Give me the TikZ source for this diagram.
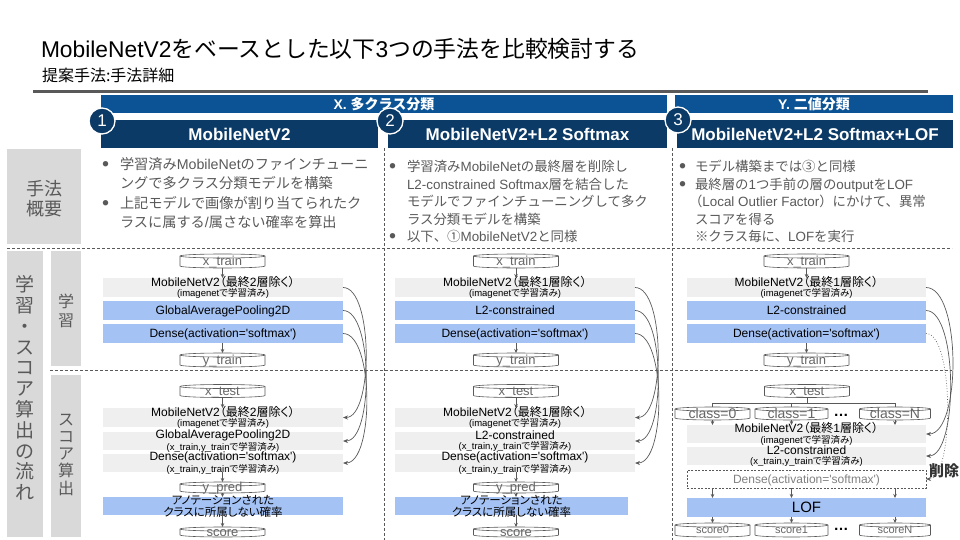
\documentclass[tikz,border=0pt]{standalone}
\usepackage{fontspec}
\setmainfont{Liberation Sans}
\newfontfamily\jp{Noto Sans CJK JP}
\newfontfamily\jpp{Noto Sans CJK JP}[RawFeature=+palt]
\usetikzlibrary{arrows.meta}
\pgfdeclarelayer{bg}
\pgfsetlayers{bg,main}

\definecolor{hdrblue}{HTML}{0B5394}
\definecolor{navy}{HTML}{0B3A66}
\definecolor{lblgray}{HTML}{D9D9D9}
\definecolor{boxgray}{HTML}{EFEFEF}
\definecolor{boxblue}{HTML}{A4C2F4}
\definecolor{txtgray}{HTML}{595959}
\definecolor{linegray}{HTML}{595959}
\definecolor{cangray}{HTML}{666666}
\definecolor{rulegray}{HTML}{595959}
\definecolor{deltxt}{HTML}{333333}

\newcommand\J[1]{{\jp #1}}
\newcommand\JP[1]{{\jpp #1}}
\newcommand\fs[2]{\fontsize{#1}{#2}\selectfont}
\newcommand\sq{\textquotesingle}

% drum outline behind a named cylinder node; #2 = half width in pt
\newcommand\candraw[2]{%
  \begin{pgfonlayer}{bg}
    \draw[canline, fill=white] ([yshift=-2pt]#1.north west) -- ([yshift=2pt]#1.south west)
      arc[start angle=180, end angle=360, x radius=#2pt, y radius=2pt]
      -- ([yshift=-2pt]#1.north east)
      arc[start angle=0, end angle=180, x radius=#2pt, y radius=2pt] -- cycle;
    \draw[canline] ([yshift=-2pt]#1.north west)
      arc[start angle=180, end angle=360, x radius=#2pt, y radius=2pt];
  \end{pgfonlayer}}

\tikzset{
  every node/.style={inner sep=0pt, outer sep=0pt},
  sepline/.style={draw=linegray, line width=0.7pt, dash pattern=on 3pt off 2pt},
  bandhdr/.style={fill=hdrblue, text=white, font=\bfseries\fs{14}{14}, minimum height=18pt, text height=10.2pt, text depth=0pt},
  colhdr/.style={fill=navy, text=white, font=\bfseries\fs{17}{17}, minimum height=28pt, text height=12.4pt, text depth=0pt},
  numc/.style={circle, fill=navy, draw=white, line width=1.3pt, minimum size=26pt, text=white, font=\fs{17}{17}},
  lblfill/.style={fill=lblgray},
  lbltxt/.style={text=txtgray, align=center},
  descA/.style={anchor=west, text=txtgray, font=\fs{14.2}{14.2}, text height=10.8pt, text depth=0pt},
  descB/.style={anchor=west, text=txtgray, font=\fs{13.4}{13.4}, text height=10.2pt, text depth=0pt},
  bul/.style={font=\jp\fs{6}{6}, text=txtgray},
  box240/.style={minimum width=240pt, minimum height=19pt},
  box1l/.style={font=\fs{12}{12}, text=black, text height=8.8pt, text depth=0pt},
  box2l/.style={font=\fs{12}{10.5}, text=black, align=center},
  annl/.style={font=\jpp\fs{11.5}{12}, text=black, align=center},
  grayfill/.style={fill=boxgray},
  bluefill/.style={fill=boxblue},
  dashedbox/.style={draw=linegray, line width=0.6pt, dash pattern=on 2pt off 1.5pt, fill=white},
  cantext/.style={text=cangray, font=\fs{13}{13}, text height=8.5pt, text depth=0pt},
  canline/.style={draw=linegray, line width=0.6pt},
  flowarr/.style={draw=linegray, line width=0.6pt, -{Stealth[length=4pt,width=3.5pt]}},
  treeline/.style={draw=linegray, line width=0.6pt},
  reuse/.style={draw=linegray, line width=0.7pt, -{Stealth[length=5pt,width=4pt]}},
}

\begin{document}
\begin{tikzpicture}[x=1pt,y=-1pt]
\useasboundingbox (0,0) rectangle (960,540);

% ---------- title block ----------
\node (title) [anchor=base west, font=\fs{22.8}{22.8}] at (41,58)
  {MobileNetV2\J{をベースとした以下}3\J{つの手法を比較検討する}};
\node (subtitle) [anchor=base west, font=\jp\fs{16}{16}] at (42,82) {提案手法:手法詳細};
\draw[line width=3pt, rulegray] (33,92) -- (928,92);

% ---------- section separators ----------
\draw[sepline] (7,248) -- (952,248);
\draw[sepline] (50,370) -- (952,370);
\draw[sepline] (384,148) -- (384,540);
\draw[sepline] (672,148) -- (672,540);

% ---------- headers ----------
\node (xband) [bandhdr, minimum width=566pt] at (384,104) {X. \J{多クラス分類}};
\node (yband) [bandhdr, minimum width=278pt] at (814,104) {Y. \J{二値分類}};
\node (h1) [colhdr, minimum width=277pt] at (239.5,134) {MobileNetV2};
\node (h2) [colhdr, minimum width=279pt] at (527.5,134) {MobileNetV2+L2 Softmax};
\node (h3) [colhdr, minimum width=276pt] at (815,134) {MobileNetV2+L2 Softmax+LOF};
\node (n1) [numc] at (102,121) {1};
\node (n2) [numc] at (390,121) {2};
\node (n3) [numc] at (678,120) {3};

% ---------- row labels ----------
\node (lbA) [lblfill, minimum width=74pt, minimum height=95pt] at (44,196.5) {};
\node (lbAt) [lbltxt, font=\jp\fs{18}{20}] at (44,199) {手法\\概要};
\node (lbB) [lblfill, minimum width=36pt, minimum height=286pt] at (25,394) {};
\node (lbBt) [lbltxt, font=\jp\fs{19}{20.8}] at (25,388)
  {学\\習\\・\\ス\\コ\\ア\\算\\出\\の\\流\\れ};
\node (lbC) [lblfill, minimum width=30pt, minimum height=115pt] at (66,308.5) {};
\node (lbCt) [lbltxt, font=\jp\fs{16}{19}] at (66,310.5) {学\\習};
\node (lbD) [lblfill, minimum width=30pt, minimum height=162pt] at (66,456) {};
\node (lbDt) [lbltxt, font=\jp\fs{16}{17.25}] at (66,454.5) {ス\\コ\\ア\\算\\出};

% ---------- method summaries ----------
\node (b11) [bul] at (105.5,164) {●};
\node (d11) [descA] at (120,164) {\J{学習済み}MobileNet\J{のファインチューニ}};
\node (d12) [descA] at (120,183.5) {\J{ングで多クラス分類モデルを構築}};
\node (b12) [bul] at (105.5,203) {●};
\node (d13) [descA] at (120,203) {\J{上記モデルで画像が割り当てられたク}};
\node (d14) [descA] at (120,222.5) {\J{ラスに属する}/\J{属さない確率を算出}};

\node (b21) [bul] at (392.5,166.5) {●};
\node (d21) [descB] at (407,166.5) {\J{学習済み}MobileNet\J{の最終層を削除し}};
\node (d22) [descB] at (407,184) {L2-constrained Softmax\J{層を結合した}};
\node (d23) [descB] at (407,201.5) {\J{モデルでファインチューニングして多ク}};
\node (d24) [descB] at (407,219) {\J{ラス分類モデルを構築}};
\node (b22) [bul] at (392.5,236.5) {●};
\node (d25) [descB] at (407,236.5) {\J{以下、①}MobileNetV2\J{と同様}};

\node (b31) [bul] at (682.5,166.5) {●};
\node (d31) [descB] at (695,166.5) {\J{モデル構築までは③と同様}};
\node (b32) [bul] at (682.5,184) {●};
\node (d32) [descB] at (695,184) {\J{最終層の}1\J{つ手前の層の}output\J{を}LOF};
\node (d33) [descB] at (689,201.5) {\J{（}Local Outlier Factor\J{）にかけて、異常}};
\node (d34) [descB] at (695,219) {\J{スコアを得る}};
\node (d35) [descB] at (695,236.5) {\J{※クラス毎に、}LOF\J{を実行}};

% ---------- column 1: MobileNetV2 ----------
\node (xtr1) [cantext, minimum width=85pt, minimum height=14pt] at (222.5,261) {x\_train};
\candraw{xtr1}{42.5}
\node (mb1) [grayfill, box240] at (223,287.5) {};
\node (mb1t) [box2l] at (mb1) {MobileNetV2\JP{（最終}2\JP{層除く）}\\{\fs{9.5}{9.5}(imagenet\JP{で学習済み})}};
\node (gap1) [bluefill, box240, box1l] at (223,310.5) {GlobalAveragePooling2D};
\node (den1) [bluefill, box240, box1l] at (223,333.5) {Dense(activation=\sq softmax\sq)};
\node (ytr1) [cantext, minimum width=85pt, minimum height=14pt] at (222.5,360) {y\_train};
\candraw{ytr1}{42.5}

\node (xte1) [cantext, minimum width=85pt, minimum height=13pt] at (222.5,391) {x\_test};
\candraw{xte1}{42.5}
\node (mbs1) [grayfill, box240] at (223,417.5) {};
\node (mbs1t) [box2l] at (mbs1) {MobileNetV2\JP{（最終}2\JP{層除く）}\\{\fs{9.5}{9.5}(imagenet\JP{で学習済み})}};
\node (gaps1) [grayfill, box240, minimum height=18pt] at (223,441) {};
\node (gaps1t) [box2l] at (gaps1) {GlobalAveragePooling2D\\{\fs{9.5}{9.5}(x\_train,y\_train\JP{で学習済み})}};
\node (dens1) [grayfill, box240, minimum height=18pt] at (223,463) {};
\node (dens1t) [box2l] at (dens1) {Dense(activation=\sq softmax\sq)\\{\fs{9.5}{9.5}(x\_train,y\_train\JP{で学習済み})}};
\node (ypr1) [cantext, minimum width=85pt, minimum height=11pt] at (222.5,487.5) {y\_pred};
\candraw{ypr1}{42.5}
\node (ann1) [bluefill, box240, minimum height=18pt] at (223,506) {};
\node (ann1t) [annl] at (ann1) {アノテーションされた\\クラスに所属しない確率};
\node (sco1) [cantext, minimum width=85pt, minimum height=10pt] at (222.5,532) {score};
\candraw{sco1}{42.5}

\draw[flowarr] (xtr1.south) -- (xtr1.south |- mb1.north);
\draw[flowarr] (den1.south -| ytr1) -- (ytr1.north);
\draw[flowarr] (xte1.south) -- (xte1.south |- mbs1.north);
\draw[flowarr] (dens1.south -| ypr1) -- (ypr1.north);
\draw[flowarr] (ypr1.south) -- (ypr1.south |- ann1.north);
\draw[flowarr] (ann1.south -| sco1) -- (sco1.north);
\draw[reuse] (mb1.east) to[out=0, in=0, looseness=0.6] (mbs1.east);
\draw[reuse] (gap1.east) to[out=0, in=0, looseness=0.6] (gaps1.east);
\draw[reuse] (den1.east) to[out=0, in=0, looseness=0.62] (dens1.east);

% ---------- column 2: MobileNetV2 + L2 Softmax ----------
\node (xtr2) [cantext, minimum width=85pt, minimum height=14pt] at (516,261) {x\_train};
\candraw{xtr2}{42.5}
\node (mb2) [grayfill, box240] at (515,287.5) {};
\node (mb2t) [box2l] at (mb2) {MobileNetV2\JP{（最終}1\JP{層除く）}\\{\fs{9.5}{9.5}(imagenet\JP{で学習済み})}};
\node (l22) [bluefill, box240, box1l] at (515,310.5) {L2-constrained};
\node (den2) [bluefill, box240, box1l] at (515,333.5) {Dense(activation=\sq softmax\sq)};
\node (ytr2) [cantext, minimum width=85pt, minimum height=14pt] at (516,360) {y\_train};
\candraw{ytr2}{42.5}

\node (xte2) [cantext, minimum width=85pt, minimum height=13pt] at (516,391) {x\_test};
\candraw{xte2}{42.5}
\node (mbs2) [grayfill, box240] at (515,417.5) {};
\node (mbs2t) [box2l] at (mbs2) {MobileNetV2\JP{（最終}1\JP{層除く）}\\{\fs{9.5}{9.5}(imagenet\JP{で学習済み})}};
\node (l2s2) [grayfill, box240, minimum height=18pt] at (515,441) {};
\node (l2s2t) [box2l] at (l2s2) {L2-constrained\\{\fs{9.5}{9.5}(x\_train,y\_train\JP{で学習済み})}};
\node (dens2) [grayfill, box240, minimum height=18pt] at (515,463) {};
\node (dens2t) [box2l] at (dens2) {Dense(activation=\sq softmax\sq)\\{\fs{9.5}{9.5}(x\_train,y\_train\JP{で学習済み})}};
\node (ypr2) [cantext, minimum width=85pt, minimum height=11pt] at (516,487.5) {y\_pred};
\candraw{ypr2}{42.5}
\node (ann2) [bluefill, minimum width=233pt, minimum height=18pt] at (511.5,506) {};
\node (ann2t) [annl] at (ann2) {アノテーションされた\\クラスに所属しない確率};
\node (sco2) [cantext, minimum width=85pt, minimum height=10pt] at (516,532) {score};
\candraw{sco2}{42.5}

\draw[flowarr] (xtr2.south) -- (xtr2.south |- mb2.north);
\draw[flowarr] (den2.south -| ytr2) -- (ytr2.north);
\draw[flowarr] (xte2.south) -- (xte2.south |- mbs2.north);
\draw[flowarr] (dens2.south -| ypr2) -- (ypr2.north);
\draw[flowarr] (ypr2.south) -- (ypr2.south |- ann2.north);
\draw[flowarr] (ann2.south -| sco2) -- (sco2.north);
\draw[reuse] (mb2.east) to[out=0, in=0, looseness=0.6] (mbs2.east);
\draw[reuse] (l22.east) to[out=0, in=0, looseness=0.6] (l2s2.east);
\draw[reuse] (den2.east) to[out=0, in=0, looseness=0.62] (dens2.east);

% ---------- column 3: MobileNetV2 + L2 Softmax + LOF ----------
\node (xtr3) [cantext, minimum width=85pt, minimum height=14pt] at (806.5,261) {x\_train};
\candraw{xtr3}{42.5}
\node (mb3) [grayfill, minimum width=239pt, minimum height=19pt] at (806.5,287.5) {};
\node (mb3t) [box2l] at (mb3) {MobileNetV2\JP{（最終}1\JP{層除く）}\\{\fs{9.5}{9.5}(imagenet\JP{で学習済み})}};
\node (l23) [bluefill, box1l, minimum width=239pt, minimum height=19pt] at (806.5,310.5) {L2-constrained};
\node (den3) [bluefill, box1l, minimum width=239pt, minimum height=19pt] at (806.5,333.5) {Dense(activation=\sq softmax\sq)};
\node (ytr3) [cantext, minimum width=85pt, minimum height=14pt] at (806.5,360) {y\_train};
\candraw{ytr3}{42.5}

\node (xte3) [cantext, minimum width=85pt, minimum height=13pt] at (807,391) {x\_test};
\candraw{xte3}{42.5}
\coordinate (bus) at (807,403);
\node (c0) [cantext, font=\fs{14}{14}, text height=9.6pt, minimum width=75pt, minimum height=13pt] at (712.5,413.5) {class=0};
\candraw{c0}{37.5}
\node (c1) [cantext, font=\fs{14}{14}, text height=9.6pt, minimum width=73pt, minimum height=13pt] at (791.5,413.5) {class=1};
\candraw{c1}{36.5}
\node (cN) [cantext, font=\fs{14}{14}, text height=9.6pt, minimum width=71pt, minimum height=13pt] at (895,413.5) {class=N};
\candraw{cN}{35.5}
\node (dots1) [font=\bfseries\fs{15}{15}, text=black] at (841,415) {…};

\node (mbs3) [grayfill, minimum width=239pt, minimum height=18pt] at (806.5,434) {};
\node (mbs3t) [box2l] at (mbs3) {MobileNetV2\JP{（最終}1\JP{層除く）}\\{\fs{9.5}{9.5}(imagenet\JP{で学習済み})}};
\node (l2s3) [grayfill, minimum width=239pt, minimum height=18pt] at (806.5,456) {};
\node (l2s3t) [box2l] at (l2s3) {L2-constrained\\{\fs{9.5}{9.5}(x\_train,y\_train\JP{で学習済み})}};
\node (dens3) [dashedbox, box1l, text=gray, minimum width=239pt, minimum height=18pt] at (806.5,479) {Dense(activation=\sq softmax\sq)};
\node (lof3) [bluefill, font=\fs{15}{15}, text=black, text height=10.9pt, text depth=0pt, minimum width=239pt, minimum height=19pt] at (806.5,507.5) {LOF};
\node (s0) [cantext, font=\fs{11}{11}, text height=7.4pt, minimum width=75pt, minimum height=14pt] at (712.5,530) {score0};
\candraw{s0}{37.5}
\node (s1) [cantext, font=\fs{11}{11}, text height=7.4pt, minimum width=73pt, minimum height=14pt] at (791.5,530) {score1};
\candraw{s1}{36.5}
\node (sN) [cantext, font=\fs{11}{11}, text height=7.4pt, minimum width=71pt, minimum height=14pt] at (895,530) {scoreN};
\candraw{sN}{35.5}
\node (dots2) [font=\bfseries\fs{15}{15}, text=black] at (841,529) {…};
\node (del) [font=\jp\bfseries\fs{15}{15}, text=deltxt] at (944,471) {削除};

\draw[flowarr] (xtr3.south) -- (xtr3.south |- mb3.north);
\draw[flowarr] (den3.south -| ytr3) -- (ytr3.north);
\draw[treeline] (xte3.south) -- (xte3.south |- bus);
\draw[treeline] (c0.north |- bus) -- (cN.north |- bus);
\foreach \c in {c0,c1,cN} {
  \draw[treeline] (\c.north |- bus) -- (\c.north);
  \draw[flowarr] (\c.south) -- (\c.south |- mbs3.north);
  \draw[flowarr] (dens3.south -| \c) -- (lof3.north -| \c);
}
\foreach \s in {s0,s1,sN} {
  \draw[flowarr] (lof3.south -| \s) -- (\s.north);
}
\draw[reuse] (mb3.east) to[out=0, in=0, looseness=0.62] (mbs3.east);
\draw[reuse] (l23.east) to[out=0, in=0, looseness=0.57] (l2s3.east);
\draw[reuse, dotted] (den3.east) to[out=0, in=0, looseness=0.5] (dens3.east);

\end{tikzpicture}
\end{document}
